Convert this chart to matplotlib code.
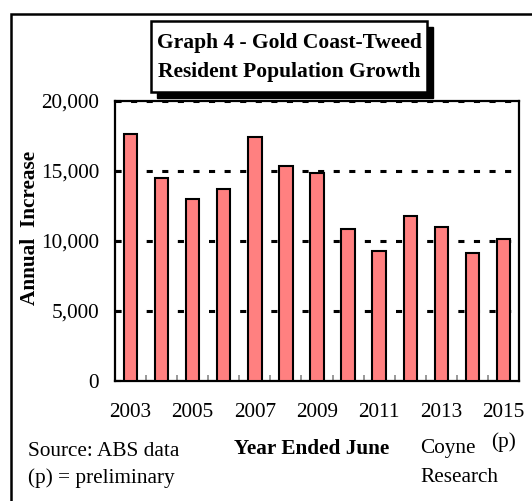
import numpy as np
import matplotlib.pyplot as plt
from matplotlib.patches import Rectangle
from matplotlib.ticker import FuncFormatter, FixedLocator
from matplotlib.transforms import blended_transform_factory

plt.rcParams['font.family'] = ['Liberation Serif', 'DejaVu Serif']

# Annual increase in resident population, year ended June
years = [2003, 2004, 2005, 2006, 2007, 2008, 2009, 2010, 2011, 2012, 2013, 2014, 2015]
increase = [17600, 14500, 12950, 13700, 17400, 15350, 14800, 10800, 9300, 11750, 10950, 9150, 10150]
year_labels = ['2003', '', '2005', '', '2007', '', '2009', '', '2011', '', '2013', '', '2015']
y_ticks = [0, 5000, 10000, 15000, 20000]

W, H = 532, 501
fig = plt.figure(figsize=(W / 100, H / 100), dpi=100)
FS = 15.3

def fx(px):
    return px / W

def fy(py):
    return 1 - py / H

# outer frame (only left and top edge visible in the crop)
fig.patches.append(Rectangle((fx(11), fy(560)), fx(600), fy(14) - fy(560),
                             transform=fig.transFigure, fill=False,
                             edgecolor='black', linewidth=1.8, clip_on=False))

ax_l, ax_r, ax_t, ax_b = 115, 519, 100.7, 380.7
ax = fig.add_axes([fx(ax_l), fy(ax_b), fx(ax_r) - fx(ax_l), fy(ax_t) - fy(ax_b)])

x = np.arange(len(years))
ax.bar(x, increase, width=0.43, color='#ff8080', edgecolor='black', linewidth=1.5, zorder=3)

ax.set_xlim(-0.5, len(years) - 0.5)
ax.set_ylim(0, 20000)
ax.set_yticks(y_ticks)
ax.yaxis.set_major_formatter(FuncFormatter(lambda v, p: f'{int(v):,}'))
ax.tick_params(axis='y', direction='in', length=4.5, width=1.5, pad=11.5, labelsize=FS)

ax.set_xticks(x)
ax.set_xticklabels(year_labels)
ax.tick_params(axis='x', which='major', length=0, pad=16, labelsize=FS)
ax.xaxis.set_minor_locator(FixedLocator(x[:-1] + 0.5))
ax.tick_params(axis='x', which='minor', direction='in', length=4, width=1.2, color='#888888')

for s in ax.spines.values():
    s.set_linewidth(1.6)

ax.set_axisbelow(True)
ax.yaxis.grid(True, color='black', linewidth=2.2, linestyle=(0, (2, 3.1)))

ax.set_ylabel('Annual  Increase', fontsize=FS, fontweight='bold')
ax.yaxis.set_label_coords(-(ax_l - 40) / (ax_r - ax_l), (ax_b - 228) / (ax_b - ax_t))

# (p) under 2015
trans = blended_transform_factory(ax.transData, fig.transFigure)
ax.text(12, fy(442), '(p)', transform=trans, ha='center', va='center', fontsize=FS)

# title box with shadow
bx0, by0, bx1, by1 = 151, 21.5, 426.5, 91.5
fig.patches.append(Rectangle((fx(bx0 + 6), fy(by1 + 6)), fx(bx1 - bx0), fy(by0) - fy(by1),
                             transform=fig.transFigure, facecolor='black', edgecolor='black'))
fig.patches.append(Rectangle((fx(bx0), fy(by1)), fx(bx1 - bx0), fy(by0) - fy(by1),
                             transform=fig.transFigure, facecolor='white', edgecolor='black',
                             linewidth=1.8))
fig.text(fx(289), fy(43), 'Graph 4 - Gold Coast-Tweed', ha='center', va='center',
         fontsize=15.5, fontweight='bold')
fig.text(fx(289), fy(72), 'Resident Population Growth', ha='center', va='center',
         fontsize=15.5, fontweight='bold')

# footer notes
fig.text(fx(28), fy(451), 'Source: ABS data', ha='left', va='center', fontsize=FS)
fig.text(fx(28), fy(478), '(p) = preliminary', ha='left', va='center', fontsize=FS)
fig.text(fx(312), fy(449), 'Year Ended June', ha='center', va='center',
         fontsize=FS, fontweight='bold')
fig.text(fx(420), fy(449), 'Coyne', ha='left', va='center', fontsize=FS)
fig.text(fx(420), fy(477), 'Research', ha='left', va='center', fontsize=FS)

fig.savefig('out.png', dpi=100)
